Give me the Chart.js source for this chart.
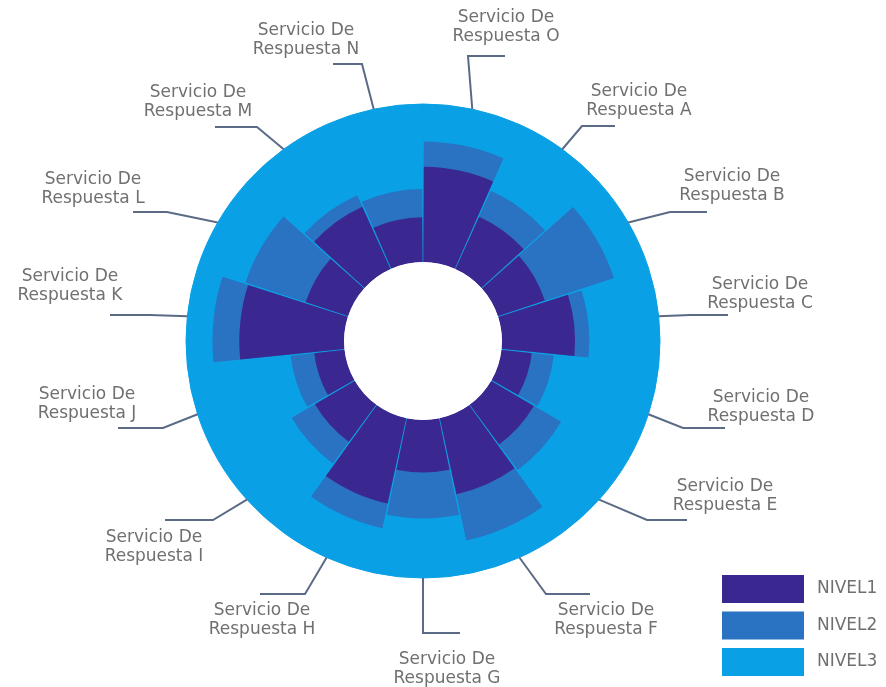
<!DOCTYPE html>
<html>
<head>
<meta charset="utf-8">
<title>Servicios de respuesta</title>
<script src="https://cdn.jsdelivr.net/npm/chart.js@4/dist/chart.umd.min.js"></script>
<style>
  html, body { margin: 0; padding: 0; background: #fff; }
  #wrap { width: 886px; height: 687px; position: relative; }
</style>
</head>
<body>
<div id="wrap"><canvas id="chart"></canvas></div>
<script>
// categorias en el sentido de las agujas del reloj (A empieza a 24 grados de la vertical)
const categories = [
  'Servicio De Respuesta A', 'Servicio De Respuesta B', 'Servicio De Respuesta C',
  'Servicio De Respuesta D', 'Servicio De Respuesta E', 'Servicio De Respuesta F',
  'Servicio De Respuesta G', 'Servicio De Respuesta H', 'Servicio De Respuesta I',
  'Servicio De Respuesta J', 'Servicio De Respuesta K', 'Servicio De Respuesta L',
  'Servicio De Respuesta M', 'Servicio De Respuesta N', 'Servicio De Respuesta O'
];
const nivel1 = [35, 30, 45, 18, 30, 48, 32, 54, 28, 18, 65, 27, 42, 27, 59];
const nivel2 = [18, 46, 9, 14, 20, 30, 29, 16, 17, 15, 17, 40, 8, 18, 16];
const nivel3 = [47, 24, 46, 68, 50, 22, 39, 30, 55, 67, 18, 33, 50, 55, 25];
const seriesNames = ['NIVEL1', 'NIVEL2', 'NIVEL3'];
const HOLE = 50; // hueco blanco del centro, en unidades del eje

const colors = ['#3a2890', '#2a72c2', '#09a0e5'];
const textColor = '#707070';
const lineColor = '#5b6b86';
const labelFont = '17px "DejaVu Sans"';

// posiciones de las etiquetas: codo de la linea, fin del tramo horizontal y texto
const labelLayout = [
  { ex: 582, ey: 126, hx: 615, tx: 639, ty: 92 },
  { ex: 670, ey: 212, hx: 707, tx: 732, ty: 177 },
  { ex: 690, ey: 315, hx: 728, tx: 760, ty: 285 },
  { ex: 683, ey: 428, hx: 725, tx: 761, ty: 398 },
  { ex: 647, ey: 520, hx: 687, tx: 725, ty: 487 },
  { ex: 546, ey: 594, hx: 590, tx: 606, ty: 611 },
  { ex: 423, ey: 633, hx: 460, tx: 447, ty: 660 },
  { ex: 305, ey: 594, hx: 260, tx: 262, ty: 611 },
  { ex: 213, ey: 520, hx: 165, tx: 154, ty: 538 },
  { ex: 163, ey: 428, hx: 118, tx: 87, ty: 395 },
  { ex: 150, ey: 315, hx: 110, tx: 70, ty: 277 },
  { ex: 167, ey: 212, hx: 133, tx: 93, ty: 180 },
  { ex: 257, ey: 127, hx: 215, tx: 198, ty: 93 },
  { ex: 362, ey: 64, hx: 333, tx: 306, ty: 31 },
  { ex: 468, ey: 56, hx: 505, tx: 506, ty: 18 }
];

// acumulados para apilar las barras radiales
const cum1 = nivel1.map(v => v);
const cum2 = nivel1.map((v, i) => v + nivel2[i]);
const cum3 = cum2.map((v, i) => v + nivel3[i]);

const leaderLabels = {
  id: 'leaderLabels',
  afterDraw(chart) {
    const ctx = chart.ctx;
    const meta = chart.getDatasetMeta(3);
    ctx.save();
    ctx.strokeStyle = lineColor;
    ctx.lineWidth = 2;
    ctx.fillStyle = textColor;
    ctx.font = labelFont;
    ctx.textAlign = 'center';
    ctx.textBaseline = 'middle';
    meta.data.forEach((arc, i) => {
      const p = arc.getProps(['x', 'y', 'startAngle', 'endAngle', 'outerRadius'], true);
      const mid = (p.startAngle + p.endAngle) / 2;
      const sx = p.x + Math.cos(mid) * p.outerRadius;
      const sy = p.y + Math.sin(mid) * p.outerRadius;
      const l = labelLayout[i];
      ctx.beginPath();
      ctx.moveTo(sx, sy);
      ctx.lineTo(l.ex, l.ey);
      ctx.lineTo(l.hx, l.ey);
      ctx.stroke();
      const parts = categories[i].split(' ');
      const line1 = parts.slice(0, 2).join(' ');
      const line2 = parts.slice(2).join(' ');
      ctx.fillText(line1, l.tx, l.ty);
      ctx.fillText(line2, l.tx, l.ty + 18.5);
    });
    ctx.restore();
  }
};

const boxLegend = {
  id: 'boxLegend',
  afterDraw(chart) {
    const ctx = chart.ctx;
    ctx.save();
    ctx.font = labelFont;
    ctx.textAlign = 'left';
    ctx.textBaseline = 'middle';
    seriesNames.forEach((name, i) => {
      const y = 575 + i * 36.5;
      ctx.fillStyle = colors[i];
      ctx.fillRect(722, y, 82, 28);
      ctx.fillStyle = textColor;
      ctx.fillText(name, 817, y + 14);
    });
    ctx.restore();
  }
};

new Chart(document.getElementById('chart'), {
  type: 'polarArea',
  data: {
    labels: categories,
    datasets: [
      {
        label: 'centro',
        data: categories.map(() => 0),
        backgroundColor: '#ffffff',
        borderColor: '#ffffff',
        borderWidth: 3,
        borderAlign: 'inner'
      },
      {
        label: seriesNames[0],
        data: cum1,
        backgroundColor: colors[0],
        borderWidth: 0,
        spacing: 4
      },
      {
        label: seriesNames[1],
        data: cum2,
        backgroundColor: colors[1],
        borderWidth: 0,
        spacing: 4
      },
      {
        label: seriesNames[2],
        data: cum3,
        backgroundColor: colors[2],
        borderColor: colors[2],
        borderWidth: 1
      }
    ]
  },
  options: {
    responsive: true,
    maintainAspectRatio: false,
    animation: false,
    layout: {
      padding: { left: 186, top: 104, right: 226, bottom: 109 }
    },
    scales: {
      r: {
        min: -HOLE,
        max: 100,
        startAngle: 24,
        ticks: { display: false },
        grid: { display: false },
        angleLines: { display: false },
        pointLabels: { display: false }
      }
    },
    plugins: {
      legend: { display: false },
      tooltip: { enabled: false }
    }
  },
  plugins: [leaderLabels, boxLegend]
});
</script>
</body>
</html>
